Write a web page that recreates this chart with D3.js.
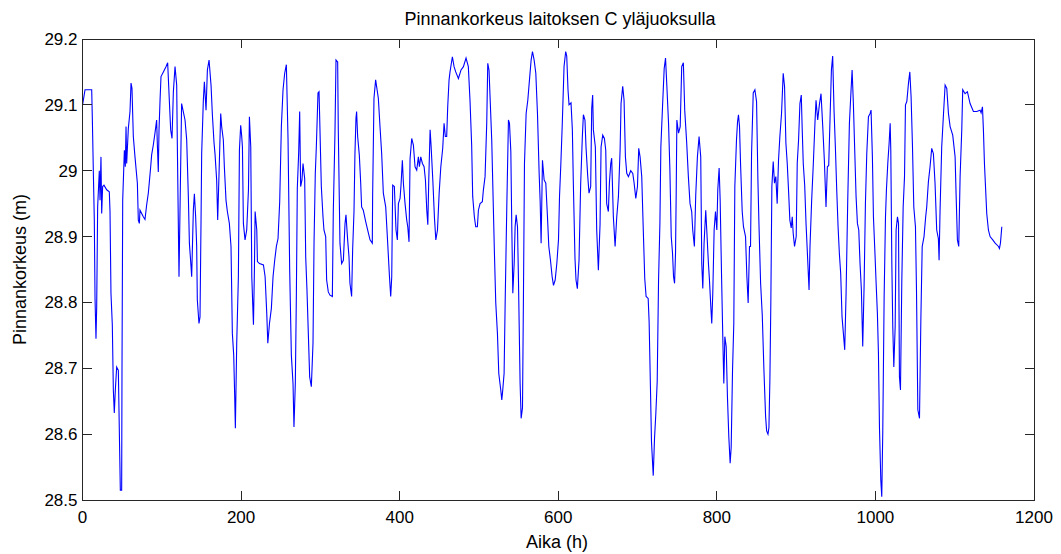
<!DOCTYPE html>
<html><head><meta charset="utf-8">
<script src="https://cdn.jsdelivr.net/npm/d3@7"></script>
<style>body{margin:0;background:#fff;} text{font-family:"Liberation Sans",Arial,sans-serif;}</style>
</head><body>
<svg id="c" width="1061" height="554"></svg>
<script>
const title = "Pinnankorkeus laitoksen C yläjuoksulla";
const xLabel = "Aika (h)";
const yLabel = "Pinnankorkeus (m)";
const xTicks = [0,200,400,600,800,1000,1200];
const yTicks = [28.5,28.6,28.7,28.8,28.9,29.0,29.1,29.2];
const yTickLabels = ["28.5","28.6","28.7","28.8","28.9","29","29.1","29.2"];

// [hour, level (m)]
const levelSeries = [
[0.1,29.1],[3.2,29.123],[11.6,29.123],[12.4,29.08],[13.7,28.996],[14.9,28.925],[15.8,28.806],[17,28.745],[17.9,28.793],[19.1,28.945],[21.2,29.0],[22.1,28.955],[23.3,29.021],[24.2,28.935],[25.4,28.976],[27.1,28.978],[30.5,28.971],[33.8,28.968],[34.7,28.938],[35.9,28.814],[37.6,28.766],[38.9,28.667],[40.1,28.632],[41.4,28.667],[43.1,28.702],[45.2,28.697],[46.5,28.601],[47.7,28.515],[49.4,28.515],[49.8,28.692],[50.7,28.955],[52.8,29.031],[54,29.006],[54.9,29.067],[55.7,29.011],[57.8,29.064],[59.9,29.09],[61.2,29.133],[62.4,29.125],[64.1,29.052],[66.2,29.021],[69.2,28.981],[70.4,28.925],[71.7,28.92],[72.5,28.94],[76.7,28.93],[78.8,28.926],[80.9,28.948],[83,28.966],[84.3,28.983],[86,29.006],[87.2,29.024],[89.3,29.039],[91.4,29.057],[93.5,29.077],[94.4,29.04],[95.6,28.998],[96.5,29.062],[97.8,29.107],[99,29.143],[102,29.15],[105.3,29.158],[107.4,29.164],[109.5,29.107],[111.2,29.062],[112.9,29.049],[114.6,29.12],[116.7,29.158],[118.8,29.13],[119.6,29.04],[121.7,28.839],[125,29.102],[129.3,29.077],[131.4,29.047],[133.5,28.961],[134.8,28.89],[136.9,28.854],[137.7,28.839],[139.8,28.94],[141.1,28.965],[142.7,28.93],[144,28.885],[144.8,28.804],[146.9,28.768],[148.2,28.778],[149.5,28.925],[150.3,29.026],[152.4,29.107],[153.7,29.135],
[155.8,29.092],[157.5,29.153],[159.6,29.168],[162.1,29.13],[163.8,29.085],[165.9,29.042],[167.1,29.026],[169.2,28.986],[170.5,28.925],[172.2,28.996],[174.3,29.087],[175.5,29.067],[177.6,29.047],[178.9,29.006],[181,28.955],[182.7,28.938],[185.2,28.92],[187.3,28.885],[189,28.753],[190.7,28.72],[192,28.654],[192.8,28.609],[194.5,28.738],[196.6,28.839],[197.9,29.031],[199.5,29.069],[200.8,29.052],[201.7,29.036],[202.9,28.92],[205,28.895],[207.1,28.91],[209.3,28.971],[210.5,29.082],[212.2,29.036],[213.5,28.839],[215.6,28.766],[216.8,28.849],[217.7,28.938],[219.8,28.91],[220.6,28.862],[223.2,28.859],[228.2,28.857],[230.3,28.839],[232.4,28.783],[233.7,28.738],[235.8,28.768],[238.2,28.791],[240.3,28.839],[242.4,28.864],[244.5,28.885],[246.6,28.897],[248.7,28.953],[250.8,29.067],[252.9,29.123],[255,29.148],[257.1,29.161],[259.2,29.049],[261.3,28.849],[263.4,28.72],[265.5,28.677],[266.7,28.611],[268.4,28.677],[269.7,28.809],[270.9,28.973],[272.6,29.026],[273.9,29.09],[275.1,28.976],[276.8,28.986],[278.1,29.011],[280.2,28.988],[281.5,28.869],[283.1,28.819],[284.8,28.753],[286.5,28.687],[288.6,28.672],[290.7,28.738],[292,28.89],[293.6,28.996],[294.9,29.036],[297,29.118],[298.3,29.12],[299.1,29.082],[301.2,28.976],[303.3,28.93],
[304.5,28.91],[306.7,28.9],[307.9,28.834],[310,28.816],[312.1,28.811],[315.1,28.809],[316.3,28.938],[318.4,29.057],[319.7,29.168],[321.8,29.165],[322.6,29.062],[324.7,28.89],[326.8,28.859],[329,28.864],[331.1,28.92],[332.3,28.933],[334.4,28.895],[336.1,28.869],[337.3,28.829],[339.4,28.809],[340.7,28.88],[342.4,28.938],[343.6,29.026],[344.9,29.08],[345.7,29.09],[347,29.052],[349.1,29.024],[350.8,28.983],[352,28.945],[354.1,28.94],[357.1,28.923],[359.6,28.91],[362.6,28.895],[365.5,28.89],[365.9,28.961],[367.6,29.11],[369.7,29.138],[373.1,29.11],[375.2,29.067],[377.3,29.026],[379.4,28.966],[382.4,28.945],[384.9,28.89],[387,28.842],[388.7,28.809],[390,28.839],[391.2,28.978],[393.3,28.976],[395.4,28.91],[397.1,28.895],[398.4,28.95],[400.5,28.958],[401.7,28.978],[403.4,29.016],[404.7,28.981],[406.8,28.95],[408.9,28.925],[410.2,28.915],[411.8,28.892],[413.1,29.018],[415.2,29.049],[417.3,29.039],[419.4,29.006],[421.5,29.001],[423.6,29.021],[424.9,29.006],[426.6,29.021],[428.7,29.011],[430.8,29.006],[432.5,28.986],[434.2,28.94],[435.5,28.918],[436.7,28.986],[438.4,29.062],[439.7,29.036],[441.8,28.986],[443.9,28.928],[445.6,28.895],[447.7,28.91],[449.8,28.966],[451.9,29.006],
[454.3,29.034],[456,29.072],[457.6,29.052],[459.3,29.052],[460.6,29.097],[462.3,29.138],[463.5,29.15],[466.5,29.173],[468.6,29.158],[470.7,29.15],[474.1,29.14],[477.4,29.153],[480.4,29.158],[483.7,29.171],[486.6,29.158],[488.7,29.107],[490.8,29.039],[492.1,28.961],[494.2,28.93],[495.9,28.915],[498,28.915],[499.3,28.94],[501.4,28.95],[504.3,28.953],[505.6,28.971],[507.7,28.991],[509.8,29.072],[511.1,29.163],[512.7,29.153],[514,29.112],[516.1,29.047],[517.4,28.981],[519.5,28.875],[521.2,28.799],[523.3,28.753],[525,28.692],[527.5,28.667],[528.8,28.652],[530,28.667],[531.7,28.692],[533,28.796],[535.1,28.945],[537.2,29.077],[538.5,29.072],[540.2,29.029],[541.4,28.915],[542.7,28.814],[544.4,28.859],[545.6,28.915],[546.9,28.933],[548.6,28.915],[549.8,28.836],[551.9,28.677],[553.2,28.624],[554.9,28.64],[556.1,28.809],[557.4,29.011],[559.5,29.087],[561.6,29.107],[563.7,29.138],[565.8,29.168],[567.5,29.181],[569.6,29.168],[571.7,29.148],[573.8,29.087],[575.9,28.996],[577.2,28.953],[578.4,28.89],[580.1,29.016],[582.2,28.986],[584.3,28.981],[586.4,28.93],[588.1,28.885],[590.2,28.864],[592.3,28.839],[594,28.826],[596.1,28.834],[598.2,28.859],[600.3,28.895],[601.6,28.961],[603.3,29.011],
[605.1,29.072],[607.3,29.158],[609.4,29.181],[610.7,29.174],[612.3,29.123],[613.6,29.1],[616.1,29.103],[617.8,29.062],[619,28.983],[621.1,28.867],[622.4,28.834],[624.1,28.821],[626.2,28.864],[628.3,28.981],[630.4,29.052],[631.7,29.085],[633.7,29.077],[635,29.036],[637.1,28.993],[638.8,28.966],[640.9,28.976],[642.2,29.095],[643.4,29.115],[644.3,29.062],[646.8,29.036],[648.5,28.91],[650.6,28.849],[652.7,28.918],[654,29.036],[656.1,29.054],[658.2,29.049],[659.9,29.031],[661.1,28.95],[663.2,28.938],[664.5,28.981],[666.2,29.011],[667.4,29.019],[669.5,28.93],[671.7,28.885],[673.8,28.93],[675.9,28.961],[678,29.031],[679.2,29.102],[681.3,29.128],[683,29.107],[684.7,29.021],[686.4,28.996],[688.5,28.991],[691.4,29.0],[694,28.996],[695.7,28.981],[697.8,28.958],[699.9,28.976],[701.5,29.034],[703.2,29.021],[705.3,28.991],[707,28.92],[709.1,28.836],[710.8,28.809],[713.4,28.806],[714.6,28.771],[716,28.687],[717.6,28.588],[719.8,28.537],[721.4,28.593],[723.1,28.632],[724.8,28.68],[726.5,28.834],[728.2,28.92],[729.4,29.036],[731.5,29.097],[733.6,29.155],[735.3,29.171],[737,29.128],[739.1,29.072],[740.8,29.001],[742.5,28.9],[744.1,28.875],[745.4,28.839],[746.7,28.829],[747.9,28.875],[748.8,28.971],[749.6,29.077],[751.7,29.057],[753.8,29.067],
[755.7,29.158],[757.8,29.164],[759.5,29.092],[762,29.042],[764.1,28.991],[766.2,28.95],[768.3,28.938],[769.6,28.91],[771.7,28.885],[773.4,28.963],[775.5,29.021],[777.6,29.052],[779.7,29.021],[781,28.859],[782.3,28.821],[783.9,28.89],[786,28.94],[787.3,28.91],[789.4,28.859],[790.7,28.834],[792.4,28.794],[793.6,28.768],[794.9,28.814],[796.6,28.91],[798.3,28.938],[800,28.91],[801.2,28.971],[802.9,29.004],[804.2,28.955],[805.9,28.844],[807.5,28.748],[808.8,28.677],[810.1,28.748],[811.8,28.733],[813.4,28.656],[815.1,28.596],[816.8,28.556],[818.1,28.58],[819.8,28.697],[821.4,28.768],[822.7,28.976],[824.8,29.047],[826.1,29.074],[827.3,29.085],[828.6,29.067],[829.9,29.011],[832,28.938],[833.6,28.915],[836.2,28.9],[837.9,28.839],[839.5,28.799],[841.2,28.885],[842.5,28.885],[843.8,29.026],[845.9,29.118],[848,29.123],[850.1,29.105],[851.8,28.986],[853.1,28.92],[855.2,28.829],[857.3,28.781],[859.4,28.697],[861.5,28.627],[862.8,28.605],[864.5,28.6],[865.7,28.61],[866.9,28.682],[868.1,28.799],[869.4,28.976],[871.1,29.014],[872.7,28.981],[874.4,28.991],[876.1,28.95],[877.8,29.016],[879.5,29.052],[881.6,29.087],[883.7,29.148],[885.4,29.128],[887.1,29.042],[888.8,29.011],[890.4,28.971],[892.1,28.925],[893.8,28.913],[895.1,28.93],[896.3,28.905],[898,28.885],[900.1,28.9],[901.4,29.011],[903.1,29.047],[904.8,29.102],
[906.5,29.115],[907.7,29.062],[909,29.011],[910.8,28.978],[912.5,28.92],[914.2,28.875],[916.3,28.819],[917.5,28.885],[919.6,28.955],[921.7,29.011],[923.8,29.074],[925.1,29.107],[927.2,29.077],[929.3,29.1],[931.4,29.117],[933.5,29.069],[935.6,29.016],[937.7,28.945],[939.4,29.006],[941.1,29.008],[942.8,29.08],[944.5,29.153],[946.1,29.174],[947.8,29.092],[949.5,29.036],[951.2,28.971],[952.9,28.915],[954.5,28.875],[956.2,28.844],[957.9,28.778],[959.6,28.753],[961.3,28.728],[963,28.814],[965.1,28.955],[967.2,29.072],[969.3,29.123],[970.6,29.153],[972.2,29.102],[973.9,29.031],[975.6,28.961],[977.3,28.92],[979,28.91],[980.6,28.859],[982.3,28.819],[984,28.733],[985.7,28.824],[987.4,28.95],[989.1,29.026],[991.2,29.082],[993.3,29.087],[994.5,29.092],[996.2,29.021],[997.5,28.93],[999.6,28.869],[1000.9,28.829],[1002.5,28.783],[1003.8,28.723],[1005.1,28.611],[1006.8,28.53],[1008,28.505],[1009.3,28.606],[1011,28.809],[1012.7,28.93],[1013.9,28.971],[1015.6,29.011],[1017.3,29.042],[1018.6,29.072],[1019.4,29.031],[1020.7,28.859],[1021.9,28.763],[1023.2,28.702],[1024.9,28.763],[1026.1,28.91],[1027.8,28.93],[1029.1,28.92],[1030.3,28.687],[1031.6,28.667],[1033.3,28.834],[1035,28.945],[1036.7,28.991],[1037.9,29.1],[1039.6,29.105],[1041.7,29.133],[1043.4,29.15],[1045,29.112],[1046.7,29.039],[1048.4,28.945],[1050.5,28.915],[1051.8,28.819],[1053.5,28.637],[1055.6,28.624],[1057.3,28.773],[1059,28.885],
[1061.3,28.9],[1063.4,28.93],[1064.7,28.945],[1066.8,28.983],[1068.9,29.006],[1071,29.034],[1073.1,29.026],[1075.2,28.981],[1077.3,28.91],[1079.4,28.897],[1080.3,28.864],[1081.5,28.938],[1083.6,29.036],[1085.8,29.085],[1087.9,29.13],[1090,29.125],[1092.1,29.087],[1094.2,29.067],[1097.5,29.054],[1100.5,29.021],[1101.7,28.966],[1103.4,28.895],[1105.1,28.885],[1106.8,28.991],[1108.9,29.062],[1110.1,29.123],[1113.1,29.117],[1116,29.12],[1119.4,29.102],[1123.6,29.09],[1127.8,29.09],[1132,29.092],[1133.3,29.088],[1135,29.097],[1136.2,29.062],[1137.5,29.011],[1140.4,28.935],[1142.5,28.91],[1144.6,28.9],[1148,28.895],[1151,28.89],[1155.2,28.885],[1156.4,28.882],[1157.7,28.89],[1159.4,28.915]
];

const m = {left: 82.5, right: 1034, top: 39, bottom: 500};
const svg = d3.select("#c");
const x = d3.scaleLinear().domain([0,1200]).range([m.left, m.right]);
const y = d3.scaleLinear().domain([28.5,29.2]).range([m.bottom, m.top]);

const line = d3.line().x(d => x(d[0])).y(d => y(d[1]));
svg.append("path").datum(levelSeries).attr("d", line)
  .attr("fill", "none").attr("stroke", "#0000ff").attr("stroke-width", 1.1);

const axisColor = "#262626";
const tickLen = 9;
const g = svg.append("g").attr("stroke", axisColor).attr("stroke-width", 1).attr("shape-rendering", "crispEdges");
g.append("rect").attr("x", m.left).attr("y", m.top).attr("width", m.right - m.left).attr("height", m.bottom - m.top).attr("fill", "none");
xTicks.forEach(t => {
  g.append("line").attr("x1", x(t)).attr("x2", x(t)).attr("y1", m.bottom).attr("y2", m.bottom - tickLen);
  g.append("line").attr("x1", x(t)).attr("x2", x(t)).attr("y1", m.top).attr("y2", m.top + tickLen);
});
yTicks.forEach(t => {
  g.append("line").attr("x1", m.left).attr("x2", m.left + tickLen).attr("y1", y(t)).attr("y2", y(t));
  g.append("line").attr("x1", m.right).attr("x2", m.right - tickLen).attr("y1", y(t)).attr("y2", y(t));
});

const tfs = 17;
svg.selectAll(".xt").data(xTicks).enter().append("text")
  .attr("x", d => x(d)).attr("y", m.bottom + 23).attr("text-anchor", "middle")
  .attr("font-size", tfs).attr("fill", "#000").text(d => d);
svg.selectAll(".yt").data(yTicks).enter().append("text")
  .attr("x", m.left - 5).attr("y", d => y(d) + 6).attr("text-anchor", "end")
  .attr("font-size", tfs).attr("fill", "#000").text((d,i) => yTickLabels[i]);

svg.append("text").attr("x", 560).attr("y", 25).attr("text-anchor", "middle")
  .attr("font-size", 18).attr("fill", "#000").text(title);
svg.append("text").attr("x", 557).attr("y", 548).attr("text-anchor", "middle")
  .attr("font-size", 18).attr("fill", "#000").text(xLabel);
svg.append("text").attr("transform", `translate(26,${(m.top + m.bottom)/2}) rotate(-90)`)
  .attr("text-anchor", "middle").attr("font-size", 18).attr("fill", "#000").text(yLabel);
</script>
</body></html>
